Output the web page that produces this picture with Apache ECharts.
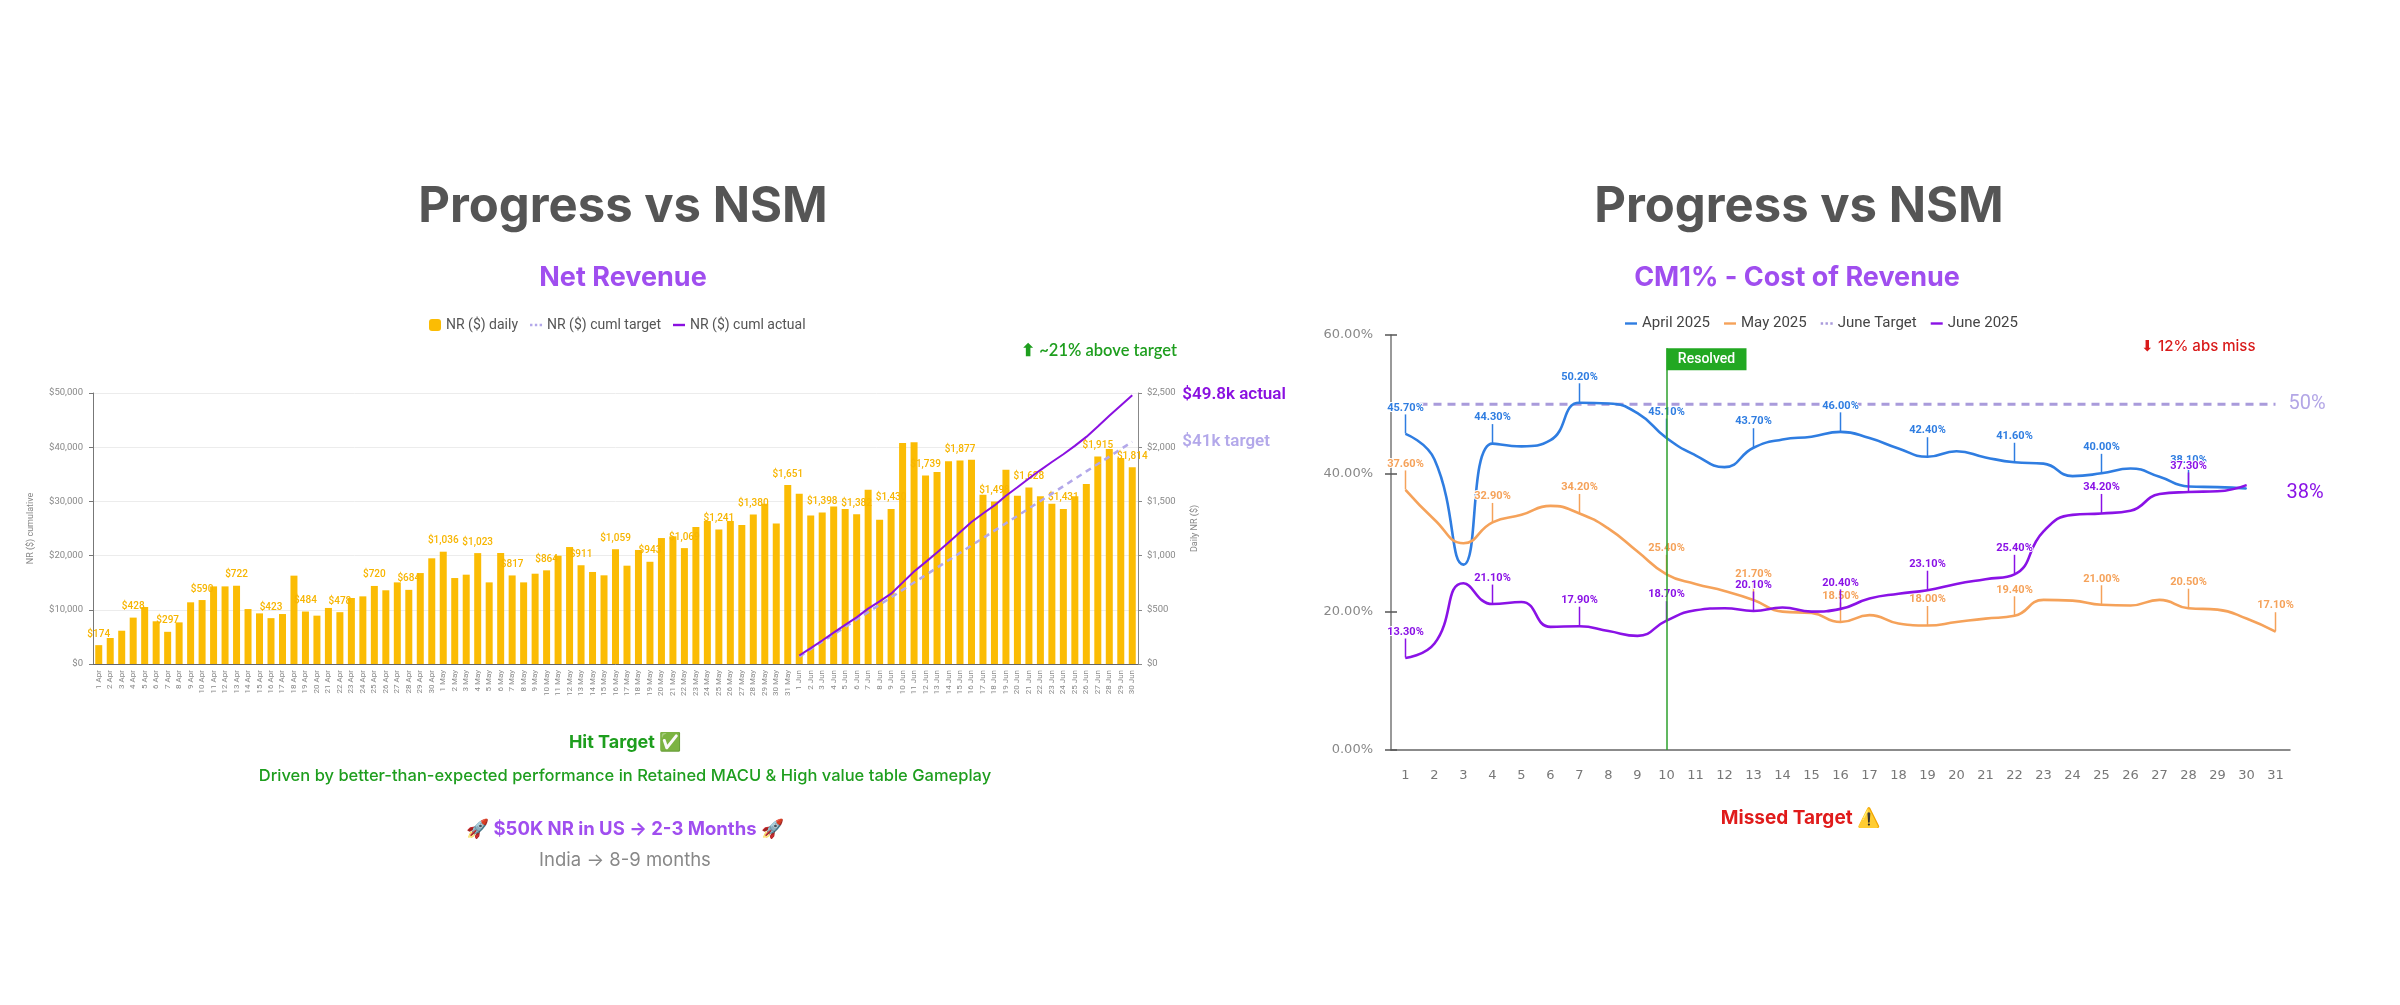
<!DOCTYPE html>
<html>
<head>
<meta charset="utf-8">
<script src="https://cdn.jsdelivr.net/npm/echarts@6/dist/echarts.min.js"></script>
<style>
html, body { margin: 0; padding: 0; background: #fff; }
#main { width: 2400px; height: 1005px; }
</style>
</head>
<body>
<div id="main"></div>
<script>
// ---------- Net Revenue (left panel) ----------
var monthDays = [["Apr", 30], ["May", 31], ["Jun", 30]];
// daily NR ($), 1 Apr .. 30 Jun
var dailyNR = [
    174, 240, 307, 428, 526, 394, 297, 384, 569, 590, 716, 716, 722, 507, 467,
    423, 461, 815, 484, 446, 517, 478, 609, 624, 720, 680, 753, 684, 839, 975,
    1036, 793, 824, 1023, 753, 1024, 817, 753, 833, 864, 999, 1079, 911, 849, 818, 1059,
    907, 1052, 943, 1162, 1178, 1069, 1264, 1319, 1241, 1319, 1282, 1380, 1479, 1295, 1651,
    1571, 1371, 1398, 1454, 1430, 1382, 1608, 1331, 1430, 2039, 2045, 1739, 1771, 1870, 1877,
    1885, 1562, 1498, 1793, 1553, 1628, 1547, 1479, 1431, 1547, 1660, 1915, 1983, 1900, 1814
];
// cumulative lines only cover 1 Jun .. 30 Jun
var cumlActual = [
    1571, 2942, 4340, 5794, 7224, 8606, 10214, 11545, 12975, 15014, 17059, 18798, 20569, 22439, 24316,
    26201, 27763, 29261, 31054, 32607, 34235, 35782, 37261, 38692, 40239, 41899, 43814, 45797, 47697, 49600
];
var cumlTarget = [
    1367, 2733, 4100, 5467, 6833, 8200, 9567, 10933, 12300, 13667, 15033, 16400, 17767, 19133, 20500,
    21867, 23233, 24600, 25967, 27333, 28700, 30067, 31433, 32800, 34167, 35533, 36900, 38267, 39633, 41000
];
var cumlTicks = [0, 10000, 20000, 30000, 40000, 50000];
var dailyTicks = [0, 500, 1000, 1500, 2000, 2500];

// ---------- CM1% (right panel) ----------
var dayLabels = ["1", "2", "3", "4", "5", "6", "7", "8", "9", "10", "11", "12", "13", "14", "15", "16",
    "17", "18", "19", "20", "21", "22", "23", "24", "25", "26", "27", "28", "29", "30", "31"];
var april2025 = [45.7, 42.0, 26.8, 44.3, 43.9, 44.8, 50.2, 50.1, 48.7, 45.1, 42.6, 40.9, 43.7, 44.9, 45.3,
    46.0, 45.1, 43.6, 42.4, 43.2, 42.3, 41.6, 41.4, 39.6, 40.0, 40.7, 39.5, 38.1, 38.0, 37.8];
var may2025 = [37.6, 33.3, 29.9, 32.9, 34.0, 35.3, 34.2, 32.0, 28.7, 25.4, 24.0, 23.0, 21.7, 20.0, 19.8,
    18.5, 19.5, 18.3, 18.0, 18.5, 19.0, 19.4, 21.7, 21.6, 21.0, 20.9, 21.7, 20.5, 20.3, 19.0, 17.1];
var juneTarget = [50, 50, 50, 50, 50, 50, 50, 50, 50, 50, 50, 50, 50, 50, 50, 50,
    50, 50, 50, 50, 50, 50, 50, 50, 50, 50, 50, 50, 50, 50, 50];
var june2025 = [13.3, 15.4, 24.1, 21.1, 21.4, 17.8, 17.9, 17.2, 16.5, 18.7, 20.2, 20.5, 20.1, 20.6, 20.0,
    20.4, 21.9, 22.6, 23.1, 24.0, 24.7, 25.4, 31.6, 34.0, 34.2, 34.6, 37.0, 37.3, 37.4, 38.3];
var resolvedDay = "10";

// x labels "1 Apr" .. "30 Jun"
var dateLabels = [];
monthDays.forEach(function (m) {
    for (var d = 1; d <= m[1]; d++) dateLabels.push(d + " " + m[0]);
});

function money(v) { return "$" + Math.round(v).toLocaleString("en-US"); }

// every 3rd point carries a value label
function everyThird(values, withLine) {
    return values.map(function (v, i) {
        if (i % 3 !== 0) return v;
        var item = { value: v, label: { show: true } };
        if (withLine) item.labelLine = { show: true };
        return item;
    });
}
function padJune(values) {
    return new Array(dateLabels.length - values.length).fill(null).concat(values);
}

var dotsIcon = "path://M0,0h2v2h-2z M4,0h2v2h-2z M8,0h2v2h-2z";
var dashIcon = "path://M0,0h10v2h-10z";

function textTitle(text, left, top, size, color, weight, align, font) {
    return {
        text: text, left: left, top: top, padding: 0, textAlign: align || "center",
        textStyle: { fontFamily: font || "Inter", fontSize: size, color: color, fontWeight: weight || "bold" }
    };
}

function pctLineSeries(name, values, color) {
    return {
        name: name, type: "line", xAxisIndex: 1, yAxisIndex: 2,
        data: everyThird(values, true),
        smooth: true, symbol: "circle", symbolSize: 1, showSymbol: true,
        itemStyle: { color: color },
        lineStyle: { color: color, width: 2.6 },
        label: {
            show: false, position: "top", distance: 4,
            formatter: function (p) { return p.value.toFixed(2) + "%"; },
            color: color, fontFamily: "Roboto", fontWeight: "bold", fontSize: 11,
            textBorderColor: "#fff", textBorderWidth: 2
        },
        labelLine: { show: false, lineStyle: { color: color, width: 1.5 } },
        // lift only the every-3rd value labels, not the end label
        labelLayout: function (p) {
            return p.dataIndex % 3 === 0 && p.text && p.text.indexOf(".") > 0 ? { dy: -16 } : {};
        },
        emphasis: { disabled: true },
        z: 3
    };
}

var chart = echarts.init(document.getElementById("main"));
chart.setOption({
    backgroundColor: "#ffffff",
    animation: false,
    title: [
        textTitle("Progress vs NSM", 623, 183, 49, "#555555", "bold"),
        textTitle("Net Revenue", 623, 264, 27, "#A04EEF", "bold"),
        textTitle("⬆ ~21% above target", 1177, 342, 16.5, "#1E9E1E", "600", "right", "Lato"),
        textTitle("Hit Target ✅", 625, 734, 18, "#1E9E1E", "bold"),
        textTitle("Driven by better-than-expected performance in Retained MACU & High value table Gameplay", 625, 768, 16.5, "#1E9E1E", "500"),
        textTitle("🚀 $50K NR in US → 2-3 Months 🚀", 625, 820, 18.5, "#A04EEF", "bold"),
        textTitle("India → 8-9 months", 625, 851, 18.5, "#888888", "normal"),
        textTitle("Progress vs NSM", 1799, 183, 49, "#555555", "bold"),
        textTitle("CM1% - Cost of Revenue", 1797, 264, 27, "#A04EEF", "bold"),
        textTitle("⬇ 12% abs miss", 2141, 339, 15, "#D91A1A", "500", "left"),
        textTitle("Missed Target ⚠️", 1801, 809, 19, "#E01B1B", "bold")
    ],
    legend: [
        {
            left: 424, top: 313, itemWidth: 12, itemHeight: 12, itemGap: 12,
            textStyle: { fontFamily: "Roboto", fontSize: 14, color: "#555" },
            data: [
                { name: "NR ($) daily", icon: "roundRect" },
                { name: "NR ($) cuml target", icon: dotsIcon },
                { name: "NR ($) cuml actual", icon: dashIcon }
            ]
        },
        {
            left: 1620, top: 311, itemWidth: 12, itemHeight: 12, itemGap: 14,
            textStyle: { fontFamily: "Roboto", fontSize: 15, color: "#444" },
            data: [
                { name: "April 2025", icon: dashIcon },
                { name: "May 2025", icon: dashIcon },
                { name: "June Target", icon: dotsIcon },
                { name: "June 2025", icon: dashIcon }
            ]
        }
    ],
    grid: [
        { left: 93, right: 1262, top: 393, bottom: 341 },
        { left: 1391, right: 110, top: 335, bottom: 255 }
    ],
    xAxis: [
        {
            type: "category", gridIndex: 0, data: dateLabels,
            axisLine: { lineStyle: { color: "#666" } },
            axisTick: { alignWithLabel: true, length: 4, lineStyle: { color: "#888" } },
            axisLabel: { interval: 0, rotate: 90, fontSize: 8, color: "#888", margin: 6, fontFamily: "Roboto" }
        },
        {
            type: "category", gridIndex: 1, data: dayLabels,
            axisLine: { lineStyle: { color: "#666", width: 1.5 } },
            axisTick: { alignWithLabel: true, length: 8, lineStyle: { color: "#555", width: 1.5 } },
            axisLabel: { fontSize: 13, color: "#777", margin: 19, fontFamily: "DejaVu Sans" }
        },
        {
            // inner half of the crossing ticks
            type: "category", gridIndex: 1, data: dayLabels, position: "bottom",
            axisLine: { show: false },
            axisTick: { inside: true, alignWithLabel: true, length: 8, lineStyle: { color: "#555", width: 1.5 } },
            axisLabel: { show: false }
        }
    ],
    yAxis: [
        {
            type: "value", gridIndex: 0, min: cumlTicks[0], max: cumlTicks[cumlTicks.length - 1], interval: 10000,
            name: "NR ($) cumulative", nameLocation: "middle", nameGap: 58,
            nameTextStyle: { fontSize: 9, color: "#888", fontFamily: "Roboto" },
            axisLine: { show: true, lineStyle: { color: "#777" } },
            axisTick: { show: true, length: 4, lineStyle: { color: "#777" } },
            axisLabel: { formatter: money, fontSize: 9.5, color: "#888", margin: 10, fontFamily: "Roboto" },
            splitLine: { lineStyle: { color: "#ececec" } }
        },
        {
            type: "value", gridIndex: 0, position: "right", min: dailyTicks[0], max: dailyTicks[dailyTicks.length - 1], interval: 500,
            name: "Daily NR ($)", nameLocation: "middle", nameGap: 52,
            nameTextStyle: { fontSize: 9, color: "#888", fontFamily: "Roboto" },
            axisLine: { show: true, lineStyle: { color: "#888" } },
            axisTick: { show: true, length: 4, lineStyle: { color: "#888" } },
            axisLabel: { formatter: money, fontSize: 9.5, color: "#888", margin: 9, fontFamily: "Roboto" },
            splitLine: { show: false }
        },
        {
            type: "value", gridIndex: 1, position: "left", min: 0, max: 60, interval: 20,
            axisLine: { show: true, lineStyle: { color: "#777", width: 1.5 } },
            axisTick: { show: true, length: 6, lineStyle: { color: "#555", width: 1.5 } },
            axisLabel: {
                formatter: function (v) { return v.toFixed(2) + "%"; },
                fontSize: 13, color: "#888", margin: 18, fontFamily: "DejaVu Sans"
            },
            splitLine: { show: false }
        },
        {
            // inner half of the crossing ticks
            type: "value", gridIndex: 1, position: "left", min: 0, max: 60, interval: 20,
            axisLine: { show: false },
            axisTick: { show: true, inside: true, length: 6, lineStyle: { color: "#555", width: 1.5 } },
            axisLabel: { show: false },
            splitLine: { show: false }
        }
    ],
    series: [
        {
            name: "NR ($) daily", type: "bar", xAxisIndex: 0, yAxisIndex: 1,
            data: everyThird(dailyNR, false),
            barWidth: 7,
            itemStyle: { color: "#FBBC04" },
            label: {
                show: false, position: "top", distance: 6,
                formatter: function (p) { return money(p.value); },
                color: "#F7B500", fontSize: 10, fontWeight: 500, fontFamily: "Roboto"
            },
            emphasis: { disabled: true }
        },
        {
            name: "NR ($) cuml target", type: "line", xAxisIndex: 0, yAxisIndex: 0,
            data: padJune(cumlTarget), symbol: "none",
            itemStyle: { color: "#B3A8EA" },
            lineStyle: { color: "#B3A8EA", width: 2.5, type: [6, 5] },
            endLabel: {
                show: true, distance: 50, formatter: "$41k target",
                color: "#B3A8EA", fontSize: 17, fontWeight: 600, fontFamily: "Roboto"
            },
            z: 4
        },
        {
            name: "NR ($) cuml actual", type: "line", xAxisIndex: 0, yAxisIndex: 0,
            data: padJune(cumlActual), symbol: "none",
            itemStyle: { color: "#8A10E0" },
            lineStyle: { color: "#8A10E0", width: 2 },
            endLabel: {
                show: true, distance: 50, formatter: "$49.8k actual",
                color: "#8A10E0", fontSize: 17, fontWeight: 600, fontFamily: "Roboto"
            },
            z: 5
        },
        pctLineSeries("April 2025", april2025, "#2F7DE1"),
        pctLineSeries("May 2025", may2025, "#F5A25A"),
        {
            name: "June Target", type: "line", xAxisIndex: 1, yAxisIndex: 2,
            data: juneTarget, symbol: "none",
            itemStyle: { color: "#A99BDB" },
            lineStyle: { color: "#A99BDB", width: 3, type: [8, 6] },
            endLabel: {
                show: true, distance: 13, formatter: "50%",
                color: "#B3A6E6", fontSize: 20, fontFamily: "Roboto"
            },
            markLine: {
                silent: true, symbol: "none",
                lineStyle: { color: "#2CA02C", width: 1.5, type: "solid" },
                label: { show: false },
                data: [[{ coord: [resolvedDay, 0] }, { coord: [resolvedDay, 58.1] }]]
            },
            markPoint: {
                silent: true, symbol: "rect", symbolSize: [80, 22], symbolOffset: [40, 11],
                itemStyle: { color: "#22A822" },
                label: { show: true, formatter: "Resolved", color: "#fff", fontSize: 14, fontWeight: 500, fontFamily: "Roboto" },
                data: [{ coord: [resolvedDay, 58.1] }]
            },
            z: 2
        },
        (function () {
            var s = pctLineSeries("June 2025", june2025, "#8A12E6");
            s.endLabel = {
                show: true, distance: 40, offset: [0, 8], formatter: "38%",
                color: "#8A12E6", fontSize: 20, fontFamily: "Roboto"
            };
            s.z = 4;
            return s;
        })()
    ]
});
</script>
</body>
</html>
